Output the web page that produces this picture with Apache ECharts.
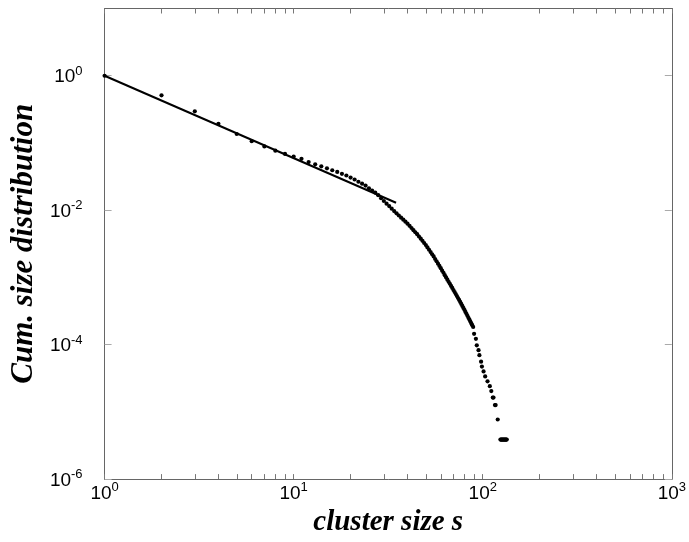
<!DOCTYPE html>
<html><head><meta charset="utf-8">
<script src="https://cdn.jsdelivr.net/npm/echarts@6/dist/echarts.min.js"></script>
<style>html,body{margin:0;padding:0;background:#fff}#c{width:689px;height:542px}</style>
</head><body><div id="c"></div>
<script>
const clusterSizes = [
  1,2,3,4,5,6,7,8,9,10,11,12,13,14,15,16,17,18,19,20,
  21,22,23,24,25,26,27,28,29,30,31,32,33,34,35,36,37,38,39,40,
  41,42,43,44,45,46,47,48,49,50,51,52,53,54,55,56,57,58,59,60,
  61,62,63,64,65,66,67,68,69,70,71,72,73,74,75,76,77,78,79,80,
  81,82,83,84,85,86,87,88,89,90,
  92,93,95,96,98,99,101,103,106,109,111,113,114,116,117,120,
  124,125,126,127,128,129,130,131,132,133,134
];
const cumDistribution = [
  1, 0.511, 0.295, 0.193, 0.136, 0.106, 0.0889, 0.0769, 0.0686, 0.0629,
  0.0580, 0.0519, 0.0481, 0.0449, 0.0420, 0.0393, 0.0371, 0.0347, 0.0328, 0.0306,
  0.0286, 0.0265, 0.0248, 0.0232, 0.0212, 0.0196, 0.0183, 0.0167, 0.0151, 0.0137,
  0.0125, 0.0115, 0.01054, 0.00971, 0.00897, 0.00834, 0.00774, 0.00723, 0.00675, 0.00631,
  0.00585, 0.00543, 0.00505, 0.00470, 0.00439, 0.00406, 0.00377, 0.00350, 0.00325, 0.00303,
  0.00279, 0.00258, 0.00238, 0.00221, 0.00205, 0.00188, 0.00174, 0.00160, 0.00148, 0.00137,
  0.00126, 0.00117, 0.00108, 0.00100, 0.000927, 0.000861, 0.000802, 0.000746, 0.000697, 0.000649,
  0.000605, 0.000565, 0.000528, 0.000494, 0.000462, 0.000432, 0.000403, 0.000376, 0.000352, 0.000329,
  0.000307, 0.000287, 0.000269, 0.000251, 0.000236, 0.000221, 0.000207, 0.000195, 0.000183, 0.000145,
  0.000122, 0.0000977, 0.0000826, 0.0000698, 0.0000558, 0.0000472, 0.0000399, 0.0000337, 0.0000285, 0.0000241,
  0.0000204, 0.0000163, 0.0000163, 0.0000126, 0.0000126, 0.0000077,
  0.00000387, 0.00000387, 0.00000387, 0.00000387, 0.00000387, 0.00000387,
  0.00000387, 0.00000387, 0.00000387, 0.00000387, 0.00000387
];
const fitSizes = [1, 34.8];
const fitValues = [1, 0.0129];
const xLabelExponents = [0, 1, 2, 3];
const yLabelExponents = [-6, -4, -2, 0];
const minorMultipliers = [1, 2, 3, 4, 5, 6, 7, 8, 9];

const xTickPositions = [];
[0, 1, 2].forEach(function (d) {
  minorMultipliers.forEach(function (m) { xTickPositions.push(d + Math.log10(m)); });
});
xTickPositions.push(3);

function pow10(v) { return '{b|10}{s|' + (v < 0 ? '-' + Math.abs(v) : v) + '}'; }
const rich = {
  b: { fontSize: 19, fontFamily: 'Liberation Sans', color: '#000', lineHeight: 22, verticalAlign: 'bottom', padding: [5, 0, 0, 0] },
  s: { fontSize: 13, fontFamily: 'Liberation Sans', color: '#000', lineHeight: 15, verticalAlign: 'top' }
};
const frame = { show: true, onZero: false, lineStyle: { color: '#666', width: 1 } };
const titleStyle = { fontFamily: 'Liberation Serif', fontStyle: 'italic', fontWeight: 'bold', color: '#000' };

const chart = echarts.init(document.getElementById('c'), null, { renderer: 'canvas' });
chart.setOption({
  animation: false,
  backgroundColor: '#fff',
  grid: { left: 102, right: 13, top: 8.5, bottom: 54, containLabel: false },
  xAxis: [
    { type: 'log', min: 1, max: 1000, show: false },
    { type: 'value', min: 0, max: 3, position: 'bottom',
      axisLine: frame, splitLine: { show: false },
      axisTick: { show: true, inside: true, length: 5, lineStyle: { color: '#777' }, customValues: xTickPositions },
      axisLabel: { show: true, margin: 2, customValues: xLabelExponents, formatter: pow10, rich: rich },
      name: 'cluster size s', nameLocation: 'middle', nameGap: 22,
      nameTextStyle: Object.assign({ fontSize: 29 }, titleStyle) },
    { type: 'value', min: 0, max: 3, position: 'top',
      axisLine: frame, splitLine: { show: false },
      axisTick: { show: true, inside: true, length: 5, lineStyle: { color: '#777' }, customValues: xTickPositions },
      axisLabel: { show: false } }
  ],
  yAxis: [
    { type: 'log', min: 1e-6, max: 10, show: false },
    { type: 'value', min: -6, max: 1, position: 'left',
      axisLine: frame, splitLine: { show: false },
      axisTick: { show: true, inside: true, length: 7, lineStyle: { color: '#aaa' }, customValues: yLabelExponents },
      axisLabel: { show: true, margin: 22, customValues: yLabelExponents, formatter: pow10, rich: rich },
      name: 'Cum. size distribution', nameLocation: 'middle', nameGap: 60, nameRotate: 90,
      nameTextStyle: Object.assign({ fontSize: 31 }, titleStyle) },
    { type: 'value', min: -6, max: 1, position: 'right',
      axisLine: frame, splitLine: { show: false },
      axisTick: { show: true, inside: true, length: 7, lineStyle: { color: '#aaa' }, customValues: yLabelExponents },
      axisLabel: { show: false } }
  ],
  series: [
    { type: 'scatter', xAxisIndex: 0, yAxisIndex: 0, symbol: 'circle', symbolSize: 4.2,
      itemStyle: { color: '#000', opacity: 1 },
      data: clusterSizes.map(function (s, i) { return [s, cumDistribution[i]]; }) },
    { type: 'line', xAxisIndex: 0, yAxisIndex: 0, showSymbol: false, symbol: 'none',
      lineStyle: { color: '#000', width: 2 },
      data: fitSizes.map(function (s, i) { return [s, fitValues[i]]; }) }
  ]
});
</script></body></html>
